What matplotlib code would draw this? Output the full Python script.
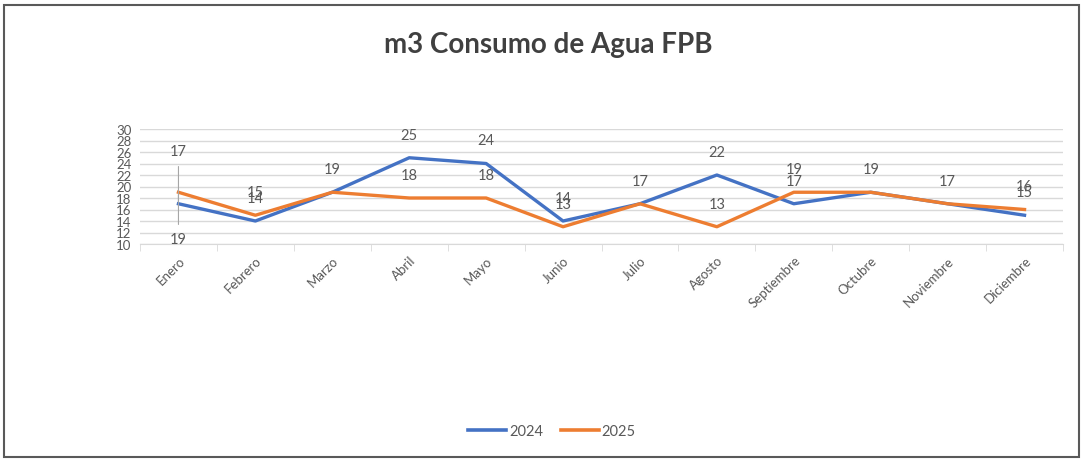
import matplotlib.pyplot as plt
from matplotlib.patches import Rectangle
from matplotlib.lines import Line2D

plt.rcParams['font.family'] = ['Lato', 'DejaVu Sans']

meses = ['Enero', 'Febrero', 'Marzo', 'Abril', 'Mayo', 'Junio', 'Julio',
         'Agosto', 'Septiembre', 'Octubre', 'Noviembre', 'Diciembre']
consumo_2024 = [17, 14, 19, 25, 24, 14, 17, 22, 17, 19, 17, 15]
consumo_2025 = [19, 15, 19, 18, 18, 13, 17, 13, 19, 19, 17, 16]
y_ticks = list(range(10, 31, 2))

azul = '#4472C4'
naranja = '#ED7D31'
gris_txt = '#595959'

fig = plt.figure(figsize=(10.81, 4.6), dpi=100)
ax = fig.add_axes([140 / 1081, 1 - 245 / 460, 923 / 1081, 115 / 460])

x = list(range(len(meses)))
ax.plot(x, consumo_2024, color=azul, lw=2.4, solid_joinstyle='round', label='2024', zorder=3)
ax.plot(x, consumo_2025, color=naranja, lw=2.4, solid_joinstyle='round', label='2025', zorder=3)

ax.set_xlim(-0.5, len(meses) - 0.5)
ax.set_ylim(10, 30)
ax.set_yticks(y_ticks)
ax.set_yticklabels([str(t) for t in y_ticks], fontsize=9.5, color=gris_txt)
ax.yaxis.grid(True, color='#d9d9d9', lw=1)
ax.set_axisbelow(True)
ax.tick_params(axis='y', length=0, pad=6)

# category labels centred, tick marks between categories
ax.set_xticks(x)
ax.set_xticklabels(meses, rotation=45, ha='right', rotation_mode='anchor',
                   fontsize=9.5, color=gris_txt)
ax.set_xticks([i - 0.5 for i in range(len(meses) + 1)], minor=True)
ax.tick_params(axis='x', which='major', length=0, pad=7)
ax.tick_params(axis='x', which='minor', length=5, color='#d9d9d9')

for s in ['left', 'right', 'top']:
    ax.spines[s].set_visible(False)
ax.spines['bottom'].set_color('#d9d9d9')

# data labels (pixel offsets from each point)
lbl = dict(textcoords='offset pixels', ha='center', va='center',
           fontsize=10.5, color=gris_txt, zorder=4)
for i, v in enumerate(consumo_2024):
    dy = 53 if i == 0 else 23
    ax.annotate(str(v), (i, v), xytext=(0, dy), **lbl)
for i, v in enumerate(consumo_2025):
    if v == consumo_2024[i] and i != 0:
        continue
    dy = -47 if i == 0 else 23
    ax.annotate(str(v), (i, v), xytext=(0, dy), **lbl)

# leader line for the first month's labels
ax.annotate('', (0, consumo_2024[0]), xytext=(0, 40), textcoords='offset pixels',
            arrowprops=dict(arrowstyle='-', color='#a6a6a6', lw=0.8))
ax.annotate('', (0, consumo_2025[0]), xytext=(0, -35), textcoords='offset pixels',
            arrowprops=dict(arrowstyle='-', color='#a6a6a6', lw=0.8))

fig.text(548 / 1081, 1 - 45 / 460, 'm3 Consumo de Agua FPB', ha='center', va='center',
         fontsize=20, fontweight='bold', color='#404040')

handles = [Line2D([], [], color=azul, lw=2.6), Line2D([], [], color=naranja, lw=2.6)]
fig.legend(handles, ['2024', '2025'], loc='center', bbox_to_anchor=(552 / 1081, 1 - 432 / 460),
           ncol=2, frameon=False, fontsize=10.5, handlelength=2.6, handletextpad=0.2,
           columnspacing=1.2, labelcolor=gris_txt)

fig.patches.append(Rectangle((4 / 1081, 2 / 460), 1075 / 1081, 452 / 460,
                             transform=fig.transFigure, fill=False,
                             edgecolor='#595959', lw=1.5))

fig.savefig('out.png', dpi=100)
